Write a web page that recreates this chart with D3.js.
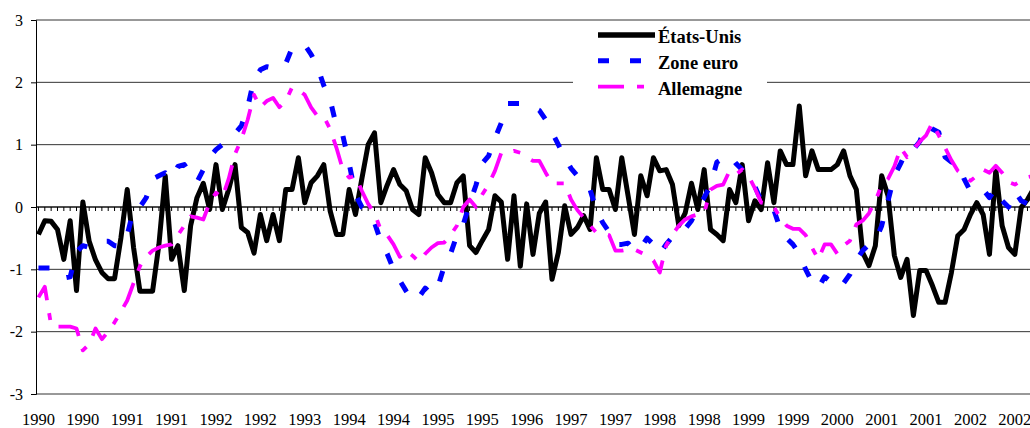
<html>
  <head>
    <meta charset="utf-8">
    <script src="https://d3js.org/d3.v7.min.js"></script>
  </head>
  <style>
  body { margin: 0; background: #fff; }
  text { font-family: "Liberation Serif", "Times New Roman", Times, "DejaVu Serif", serif; fill: #000; }
  </style>
  <body>
    <svg id="chart" width="1030" height="428"></svg>

    <script>
    // one point per month from Jan 1990, a year label every 7 months
    const tickLabels = ["1990","1990","1991","1991","1992","1992","1993","1994","1994","1995","1995","1996",
                        "1997","1997","1998","1998","1999","1999","2000","2001","2001","2002","2002"];
    const yTicks = [-3, -2, -1, 0, 1, 2, 3];
    const seriesNames = ["États-Unis", "Zone euro", "Allemagne"];

    const etatsUnis = [
      -0.44,-0.22,-0.23,-0.36,-0.84,-0.22,-1.34,0.08,-0.55,-0.85,
      -1.05,-1.15,-1.15,-0.5,0.28,-0.65,-1.35,-1.35,-1.35,-0.6,
      0.5,-0.84,-0.62,-1.34,-0.3,0.15,0.38,-0.04,0.68,-0.04,
      0.28,0.68,-0.33,-0.41,-0.74,-0.12,-0.54,-0.12,-0.54,0.28,
      0.28,0.79,0.07,0.39,0.5,0.68,-0.06,-0.44,-0.44,0.28,
      -0.12,0.45,1.0,1.19,0.07,0.35,0.6,0.36,0.26,-0.04,
      -0.12,0.79,0.55,0.2,0.07,0.07,0.39,0.5,-0.62,-0.73,
      -0.54,-0.36,0.18,0.08,-0.84,0.18,-0.95,0.05,-0.76,-0.1,
      0.08,-1.16,-0.73,0.02,-0.44,-0.33,-0.14,-0.36,0.79,0.28,
      0.28,-0.04,0.79,0.18,-0.44,0.5,0.18,0.79,0.58,0.6,
      0.36,-0.3,-0.1,0.38,-0.04,0.6,-0.36,-0.44,-0.54,0.28,
      0.07,0.68,-0.22,0.1,-0.04,0.71,0.07,0.9,0.68,0.68,
      1.62,0.5,0.9,0.6,0.6,0.6,0.68,0.9,0.5,0.28,
      -0.73,-0.94,-0.62,0.5,0.18,-0.78,-1.13,-0.84,-1.74,-1.02,
      -1.02,-1.26,-1.53,-1.53,-1.05,-0.46,-0.36,-0.12,0.07,-0.12,
      -0.76,0.6,-0.3,-0.65,-0.76,-0.01,0.12,0.3
    ];

    const zoneEuro = [
      -0.98,-0.98,-0.98,-1.1,-1.14,-1.12,-0.72,-0.62,-0.65,-0.6,
      -0.55,-0.55,-0.62,-0.63,-0.45,-0.04,0.0,0.15,0.45,0.5,
      0.55,0.45,0.65,0.68,0.52,0.4,0.6,0.8,0.92,1.0,
      1.08,1.18,1.3,1.6,2.05,2.2,2.25,2.23,2.22,2.3,
      2.55,2.6,2.6,2.45,2.25,1.95,1.72,1.3,1.15,0.7,
      0.2,0.0,-0.08,-0.25,-0.55,-0.75,-1.0,-1.18,-1.35,-1.5,
      -1.45,-1.3,-1.4,-1.28,-0.95,-0.75,-0.45,-0.28,0.05,0.35,
      0.7,0.82,1.1,1.35,1.66,1.66,1.66,1.62,1.6,1.55,
      1.4,1.2,1.0,0.8,0.62,0.5,0.38,0.28,-0.05,-0.25,
      -0.4,-0.6,-0.6,-0.58,-0.7,-0.65,-0.5,-0.6,-0.75,-0.6,
      -0.48,-0.38,-0.35,-0.22,0.0,0.15,0.35,0.72,0.78,0.83,
      0.7,0.6,0.45,0.33,0.1,0.05,-0.05,-0.35,-0.5,-0.6,
      -0.75,-1.0,-1.2,-1.3,-1.12,-1.2,-1.3,-1.22,-1.08,-0.85,
      -0.7,-0.6,-0.55,-0.3,0.1,0.5,0.7,0.92,0.92,1.05,
      1.32,1.25,1.2,0.8,0.72,0.7,0.45,0.25,0.25,0.28,
      0.15,0.3,0.1,0.0,0.25,0.1,0.05,0.1
    ];

    const allemagne = [
      -1.45,-1.28,-1.9,-1.92,-1.92,-1.92,-1.95,-2.3,-2.2,-1.95,
      -2.12,-2.0,-1.85,-1.68,-1.5,-1.22,-0.95,-0.8,-0.7,-0.65,
      -0.62,-0.6,-0.45,-0.3,-0.15,-0.17,-0.2,0.07,0.23,0.15,
      0.45,0.85,1.08,1.4,1.8,1.6,1.7,1.75,1.6,1.7,
      1.92,1.88,1.8,1.6,1.46,1.45,1.25,0.95,0.6,0.47,
      0.5,0.26,0.05,-0.1,-0.37,-0.45,-0.6,-0.8,-0.7,-0.78,
      -0.88,-0.75,-0.65,-0.58,-0.57,-0.45,-0.3,0.0,0.12,0.0,
      0.2,0.36,0.58,0.87,0.87,0.9,0.87,0.8,0.74,0.74,
      0.55,0.38,0.38,0.38,0.12,-0.05,-0.17,-0.3,-0.41,-0.42,
      -0.45,-0.7,-0.7,-0.68,-0.68,-0.73,-0.78,-0.86,-1.05,-0.62,
      -0.44,-0.3,-0.2,-0.15,-0.12,-0.1,0.28,0.34,0.36,0.58,
      0.52,0.6,0.5,0.3,0.07,0.05,0.0,-0.17,-0.3,-0.35,
      -0.35,-0.45,-0.65,-0.84,-0.6,-0.6,-0.75,-0.62,-0.54,-0.28,
      -0.22,-0.1,0.1,0.35,0.45,0.65,0.95,0.8,0.92,1.05,
      1.15,1.35,1.15,0.95,0.75,0.58,0.5,0.42,0.5,0.6,
      0.55,0.66,0.55,0.4,0.36,0.42,0.48,0.5
    ];

    const svg = d3.select("#chart");
    const n = etatsUnis.length;
    const serif = '"Liberation Serif", "Times New Roman", Times, "DejaVu Serif", serif';

    // band of 6.34px per month, the right end runs off the picture like the original
    const x = d3.scaleBand().domain(d3.range(n)).range([35.3, 35.3 + 6.34 * n]);
    const cx = i => x(i) + x.bandwidth() / 2;
    const y = d3.scaleLinear().domain([-3, 3]).range([394, 20]);

    // horizontal gridlines
    svg.append("g").selectAll("line").data(yTicks).enter().append("line")
      .attr("x1", 36).attr("x2", 1030)
      .attr("y1", d => y(d)).attr("y2", d => y(d))
      .attr("stroke", "#333").attr("stroke-width", 1);

    // y axis
    const yAxis = svg.append("g").attr("transform", "translate(36,0)")
      .call(d3.axisLeft(y).tickValues(yTicks).tickSize(5).tickPadding(8).tickFormat(d => String(d)));
    yAxis.attr("font-family", null);
    yAxis.select(".domain").attr("stroke", "#000");
    yAxis.selectAll("text").style("font-size", "16px").style("font-family", serif);

    // x axis on the zero line, a tick per month
    const xAxis = svg.append("g").attr("transform", "translate(0," + y(0) + ")")
      .call(d3.axisBottom(x).tickValues(d3.range(n)).tickSize(4).tickFormat(""));
    xAxis.select(".domain").remove();
    xAxis.append("line").attr("x1", 36).attr("x2", 1030).attr("stroke", "#000");

    // year labels along the bottom
    const labelAxis = svg.append("g").attr("transform", "translate(0,394)")
      .call(d3.axisBottom(x).tickValues(d3.range(tickLabels.length).map(k => k * 7))
        .tickSize(0).tickPadding(19).tickFormat(i => tickLabels[i / 7]));
    labelAxis.attr("font-family", null);
    labelAxis.select(".domain").remove();
    labelAxis.selectAll("text").style("font-size", "16.5px").style("font-family", serif);

    const line = d3.line().x((d, i) => cx(i)).y(d => y(d));

    const styles = [
      {data: etatsUnis, color: "#000000", width: 5,   dash: null},
      {data: zoneEuro,  color: "#0000ff", width: 5,   dash: "11,21"},
      {data: allemagne, color: "#ff00ff", width: 3.8, dash: "26,13,7,13"}
    ];

    styles.forEach(function(s) {
      svg.append("path")
        .attr("d", line(s.data))
        .attr("fill", "none")
        .attr("stroke", s.color)
        .attr("stroke-width", s.width)
        .attr("stroke-linejoin", "round")
        .attr("stroke-dasharray", s.dash);
    });

    // legend
    const legend = svg.append("g");
    legend.append("rect").attr("x", 573).attr("y", 24).attr("width", 194).attr("height", 76).attr("fill", "#fff");
    styles.forEach(function(s, k) {
      let ly = 35 + k * 25.8;
      legend.append("line")
        .attr("x1", 598).attr("x2", 655).attr("y1", ly).attr("y2", ly)
        .attr("stroke", s.color).attr("stroke-width", k === 0 ? 5.5 : s.width)
        .attr("stroke-dasharray", s.dash);
      legend.append("text")
        .attr("x", 658).attr("y", ly + 8)
        .style("font-size", "18.5px").style("font-weight", "bold").style("font-family", serif)
        .text(seriesNames[k]);
    });
    </script>
  </body>
</html>
